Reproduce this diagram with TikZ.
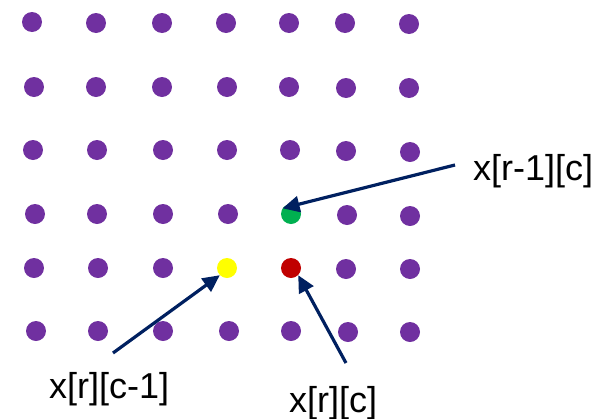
\documentclass[tikz,border=0pt]{standalone}
\usepackage{fontspec}
\setmainfont{Liberation Sans}
\usetikzlibrary{arrows.meta}
\definecolor{dotpurple}{HTML}{7030A0}
\definecolor{dotgreen}{HTML}{00B050}
\definecolor{dotyellow}{HTML}{FFFF00}
\definecolor{dotred}{HTML}{C00000}
\definecolor{arrownavy}{HTML}{002060}
\tikzset{
  gdot/.style={circle, inner sep=0pt, minimum size=20pt, fill=#1},
  gdot/.default=dotpurple,
  pointer/.style={draw=arrownavy, line width=3.2pt, -{Triangle[length=17pt,width=16pt]}},
  lbl/.style={anchor=base west, inner sep=0pt, font=\fontsize{36}{40}\selectfont}
}
\begin{document}
\begin{tikzpicture}[x=1pt,y=-1pt]
\useasboundingbox (0,0) rectangle (605,418);
% row 1
\foreach \c/\x/\y in {1/32/22,2/96/23,3/162/23,4/226/23,5/289/23,6/345/23,7/409/24}
  \node[gdot] (d1\c) at (\x,\y) {};
% row 2
\foreach \c/\x/\y in {1/34/87,2/96/87,3/162/87,4/227/87,5/289/87,6/346/88,7/409/88}
  \node[gdot] (d2\c) at (\x,\y) {};
% row 3
\foreach \c/\x/\y in {1/33/150,2/97/150,3/163/150,4/227/150,5/290/150,6/346/151,7/410/152}
  \node[gdot] (d3\c) at (\x,\y) {};
% row 4
\foreach \c/\x/\y in {1/35/214,2/97/214,3/163/214,4/228/214,6/347/215,7/410/216}
  \node[gdot] (d4\c) at (\x,\y) {};
\node[gdot=dotgreen] (d45) at (291,214) {};
% row 5
\foreach \c/\x/\y in {1/34/268,2/98/268,3/163/268,6/346/269,7/410/269}
  \node[gdot] (d5\c) at (\x,\y) {};
\node[gdot=dotyellow] (d54) at (227,268) {};
\node[gdot=dotred] (d55) at (291,268) {};
% row 6
\foreach \c/\x/\y in {1/36/331,2/98/331,3/163/331,4/229/331,5/291/331,6/348/332,7/410/332}
  \node[gdot] (d6\c) at (\x,\y) {};
% labels
\node[lbl] (lup) at (473,180) {x[r-1][c]};
\node[lbl] (lleft) at (49,398) {x[r][c-1]};
\node[lbl] (lcur) at (289,412) {x[r][c]};
% arrow tails
\coordinate (tup) at (455,165);
\coordinate (tleft) at (113,353);
\coordinate (tcur) at (346,363);
\draw[pointer] (tup) -- (d45.146);
\draw[pointer] (tleft) -- (d54.225);
\draw[pointer] (tcur) -- (d55.-45);
\end{tikzpicture}
\end{document}
